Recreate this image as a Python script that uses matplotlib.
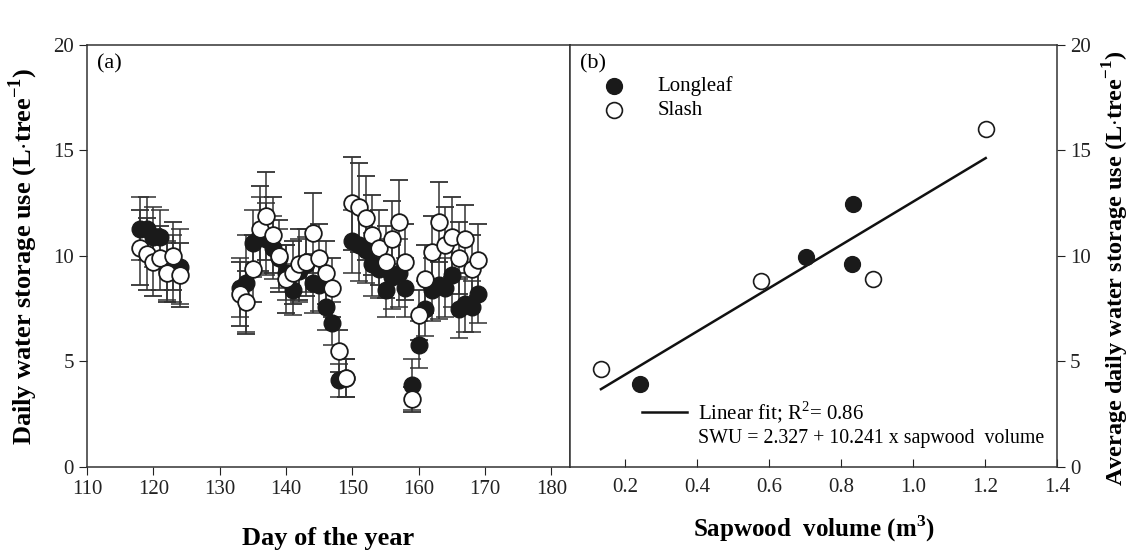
import numpy as np
import matplotlib
matplotlib.use("Agg")
import matplotlib.pyplot as plt
from matplotlib.lines import Line2D

plt.rcParams['font.family'] = ['Liberation Serif', 'DejaVu Serif']
plt.rcParams['mathtext.fontset'] = 'custom'
plt.rcParams['mathtext.rm'] = 'Liberation Serif'
plt.rcParams['mathtext.bf'] = 'Liberation Serif:bold'

# (a) daily storage use by day of year
days = [118, 119, 120, 121, 122, 123, 124,
        133, 134, 135, 136, 137, 138, 139, 140, 141, 142, 143, 144, 145, 146,
        147, 148, 149, 150, 151, 152, 153, 154, 155, 156, 157, 158, 159, 160,
        161, 162, 163, 164, 165, 166, 167, 168, 169]

longleaf = [11.3, 11.3, 10.9, 10.9, 9.3, 9.4, 9.5,
            8.5, 8.7, 10.6, 11.0, 10.8, 10.4, 9.9, 9.2, 8.4, 9.3, 9.6, 8.7, 8.6, 7.6,
            6.8, 4.1, 4.2, 10.7, 10.5, 10.3, 9.6, 9.4, 8.4, 9.0, 9.2, 8.5, 3.9, 5.8,
            7.5, 8.4, 8.6, 8.5, 9.1, 7.5, 7.7, 7.6, 8.2]
longleaf_se = [1.5, 1.5, 1.4, 1.3, 1.4, 1.6, 1.8,
               1.4, 2.3, 1.6, 1.8, 1.7, 1.5, 1.4, 1.3, 1.2, 1.5, 1.3, 1.4, 1.2, 1.1,
               1.0, 0.8, 0.9, 1.5, 1.7, 1.6, 1.5, 1.4, 1.3, 1.5, 1.6, 1.4, 1.2, 1.1,
               1.3, 1.5, 1.6, 1.4, 1.5, 1.4, 1.3, 1.2, 1.4]

slash = [10.4, 10.1, 9.7, 9.9, 9.2, 10.0, 9.1,
         8.2, 7.8, 9.4, 11.3, 11.9, 11.0, 10.0, 8.9, 9.2, 9.6, 9.7, 11.1, 9.9, 9.2,
         8.5, 5.5, 4.2, 12.5, 12.3, 11.8, 11.0, 10.4, 9.7, 10.8, 11.6, 9.7, 3.2, 7.2,
         8.9, 10.2, 11.6, 10.5, 10.9, 9.9, 10.8, 9.4, 9.8]
slash_se = [1.8, 1.7, 1.6, 1.5, 1.4, 1.6, 1.5,
            1.5, 1.5, 1.6, 2.0, 2.1, 1.8, 1.7, 1.6, 1.5, 1.7, 1.6, 1.9, 1.6, 1.5,
            1.4, 1.0, 0.9, 2.2, 2.1, 2.0, 1.9, 1.8, 1.7, 1.8, 2.0, 1.8, 0.6, 1.2,
            1.6, 1.7, 1.9, 1.8, 1.9, 1.7, 1.6, 1.6, 1.7]

# (b) average storage use vs sapwood volume
vol_longleaf = [0.242, 0.702, 0.832, 0.830]
swu_longleaf = [3.93, 9.94, 12.45, 9.60]
vol_slash = [0.133, 0.578, 0.890, 1.202]
swu_slash = [4.64, 8.83, 8.90, 16.0]
fit_a, fit_b = 2.327, 10.241
r2 = 0.86

fig = plt.figure(figsize=(11.33, 5.54), dpi=100)
ax1 = fig.add_axes([0.0768, 0.157, 0.4263, 0.762])
ax2 = fig.add_axes([0.5031, 0.157, 0.4298, 0.762])

err_col = '#333333'
ax1.errorbar(days, longleaf, yerr=longleaf_se, fmt='o', ms=12, mfc='#1a1a1a',
             mec='#1a1a1a', ecolor=err_col, elinewidth=1.1, capsize=6.5, capthick=1.1)
ax1.errorbar(days, slash, yerr=slash_se, fmt='o', ms=12, mfc='white',
             mec='#1a1a1a', mew=1.3, ecolor=err_col, elinewidth=1.1, capsize=6.5, capthick=1.1)
ax1.set_xlim(110, 182.8)
ax1.set_ylim(0, 20)
ax1.set_xticks(np.arange(110, 181, 10))
ax1.set_yticks(np.arange(0, 21, 5))
ax1.tick_params(direction='out', length=6, labelsize=15, colors='#222222')
ax1.set_xlabel('Day of the year', fontsize=19, fontweight='bold', labelpad=20)
ax1.set_ylabel(r'Daily water storage use (L$\cdot$tree$^{\mathbf{-1}}$)',
               fontsize=19, fontweight='bold', labelpad=9)
ax1.text(0.02, 0.955, '(a)', transform=ax1.transAxes, fontsize=16, va='center')

ax2.scatter(vol_longleaf, swu_longleaf, s=130, c='#1a1a1a', edgecolors='#1a1a1a',
            zorder=3, label='Longleaf')
ax2.scatter(vol_slash, swu_slash, s=130, c='white', edgecolors='#1a1a1a',
            linewidths=1.2, zorder=3, label='Slash')
all_vol = vol_longleaf + vol_slash
xf = np.array([min(all_vol), max(all_vol)])
ax2.plot(xf, fit_a + fit_b * xf, color='#111111', lw=1.8, zorder=2)
ax2.set_xlim(0.047, 1.4)
ax2.set_ylim(0, 20)
ax2.set_xticks(np.arange(0.2, 1.41, 0.2))
ax2.set_xticklabels(['%.1f' % v for v in np.arange(0.2, 1.41, 0.2)])
ax2.set_yticks(np.arange(0, 21, 5))
ax2.yaxis.tick_right()
ax2.yaxis.set_label_position('right')
ax2.tick_params(axis='x', direction='in', length=6, labelsize=15, colors='#222222', pad=8)
ax2.tick_params(axis='y', direction='out', length=6, labelsize=15, colors='#222222')
ax2.set_xlabel(r'Sapwood  volume (m$^{\mathbf{3}}$)', fontsize=18, fontweight='bold', labelpad=12)
ax2.set_ylabel(r'Average daily water storage use (L$\cdot$tree$^{\mathbf{-1}}$)',
               fontsize=17.5, fontweight='bold')
ax2.yaxis.set_label_coords(1.09, 0.47)
ax2.text(0.02, 0.955, '(b)', transform=ax2.transAxes, fontsize=16, va='center')

leg = ax2.legend(loc='upper left', bbox_to_anchor=(0.03, 0.945), frameon=False,
                 fontsize=15, handletextpad=1.1, labelspacing=0.2, borderaxespad=0)
ax2.add_artist(leg)
fit_handle = Line2D([], [], color='#111111', lw=1.8)
ax2.legend([fit_handle], [r'Linear fit; R$^2$= 0.86'], loc='upper left',
           bbox_to_anchor=(0.13, 0.18), frameon=False, fontsize=15,
           handlelength=2.2, handletextpad=0.5, borderaxespad=0)
ax2.text(0.262, 0.068, 'SWU = %.3f + %.3f x sapwood  volume' % (fit_a, fit_b),
         transform=ax2.transAxes, fontsize=14.3, va='center')

for ax in (ax1, ax2):
    for sp in ax.spines.values():
        sp.set_color('#333333')
        sp.set_linewidth(1.1)

fig.savefig('out.png', dpi=100)
